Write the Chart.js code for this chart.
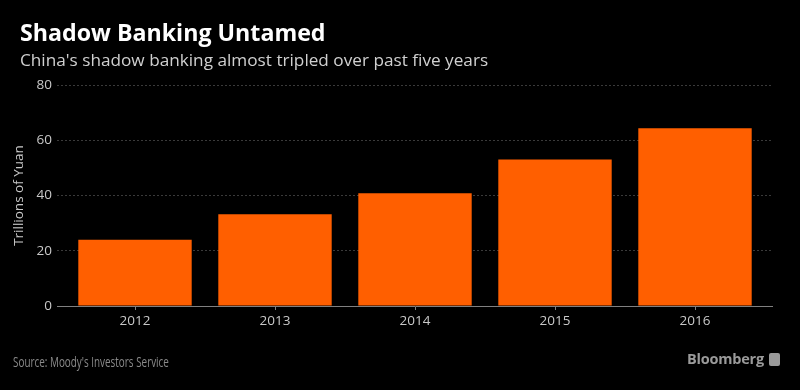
<!DOCTYPE html>
<html>
<head>
<meta charset="utf-8">
<script src="https://cdn.jsdelivr.net/npm/chart.js@4.4.1/dist/chart.umd.min.js"></script>
<style>
  html, body { margin: 0; padding: 0; background: #000; }
  #wrap { position: relative; width: 800px; height: 390px; background: #000; overflow: hidden; }
  #c { position: absolute; left: 0; top: 0; }
  .title { position: absolute; left: 20px; top: 18px; color: #fff; font-family: "Open Sans", sans-serif; font-weight: 700; font-size: 23.2px; line-height: 28px; white-space: nowrap; }
  .subtitle { position: absolute; left: 20px; top: 49px; color: #d0d0d0; font-family: "Open Sans", sans-serif; font-size: 17.2px; line-height: 21px; white-space: nowrap; }
  .source { position: absolute; left: 13px; top: 351px; color: #8a8a8a; font-family: "Open Sans", sans-serif; font-size: 15px; line-height: 20px; white-space: nowrap; transform: scaleX(0.66); transform-origin: left center; }
  .brand { position: absolute; right: 20px; top: 350px; color: #9a9a9a; font-family: "Open Sans", sans-serif; font-weight: 700; font-size: 14.5px; line-height: 18px; white-space: nowrap; letter-spacing: -0.2px; }
  .brand .icon { display: inline-block; width: 11px; height: 13px; background: #9a9a9a; border-radius: 2px; vertical-align: -2px; margin-left: 5px; }
</style>
</head>
<body>
<div id="wrap">
  <canvas id="c" width="800" height="390"></canvas>
  <div class="title">Shadow Banking Untamed</div>
  <div class="subtitle">China's shadow banking almost tripled over past five years</div>
  <div class="source">Source: Moody's Investors Service</div>
  <div class="brand">Bloomberg<span class="icon"></span></div>
</div>
<script>
const categories = ["2012", "2013", "2014", "2015", "2016"];
const shadowBanking = [24.0, 33.2, 40.8, 53.0, 64.3];
const yTicks = [0, 20, 40, 60, 80];
const yAxisTitle = "Trillions of Yuan";

const barColor = "#ff5f00";
const gridColor = "#3a3a3a";
const zeroColor = "#808080";
const tickFont = { family: "'Open Sans', sans-serif", size: 13.5 };

const yMin = yTicks[0];
const yMax = yTicks[yTicks.length - 1];
const yStep = yTicks[1] - yTicks[0];

const tickColorFn = ctx => (ctx.tick && ctx.tick.value === 0) ? zeroColor : gridColor;
const tickDashFn = ctx => (ctx.tick && ctx.tick.value === 0) ? [] : [2, 2];

new Chart(document.getElementById("c"), {
  type: "bar",
  data: {
    labels: categories,
    datasets: [{
      data: shadowBanking,
      backgroundColor: barColor,
      borderWidth: 0,
      barPercentage: 0.81,
      categoryPercentage: 1.0
    }]
  },
  options: {
    responsive: false,
    animation: false,
    devicePixelRatio: 1,
    layout: { padding: { top: 85, right: 27, bottom: 0, left: 0 } },
    plugins: { legend: { display: false }, tooltip: { enabled: false }, title: { display: false } },
    scales: {
      x: {
        offset: true,
        grid: { display: true, drawOnChartArea: false, drawTicks: true, tickLength: 4, offset: false, color: zeroColor },
        border: { display: true, color: zeroColor, width: 1 },
        ticks: { color: "#c8c8c8", font: tickFont, padding: 3, maxRotation: 0 },
        afterFit: s => { s.height = 84; }
      },
      y: {
        position: "left",
        min: yMin, max: yMax,
        ticks: { stepSize: yStep, color: "#c8c8c8", font: tickFont, padding: 5 },
        grid: { color: ctx => (ctx.tick && ctx.tick.value === 0) ? zeroColor : gridColor, lineWidth: 1, tickLength: 8, tickColor: tickColorFn, tickBorderDash: tickDashFn },
        border: { display: false, dash: [2, 2] },
        title: { display: true, text: yAxisTitle, color: "#c8c8c8", font: { family: "'Open Sans', sans-serif", size: 13.5 }, padding: { top: 11, bottom: 0 } },
        afterFit: s => { s.width = 65; }
      },
      y2: {
        position: "right",
        min: yMin, max: yMax,
        ticks: { display: false, stepSize: yStep },
        grid: { drawOnChartArea: false, drawTicks: true, tickLength: 8, tickColor: tickColorFn, tickBorderDash: tickDashFn },
        border: { display: false }
      }
    }
  }
});
</script>
</body>
</html>
